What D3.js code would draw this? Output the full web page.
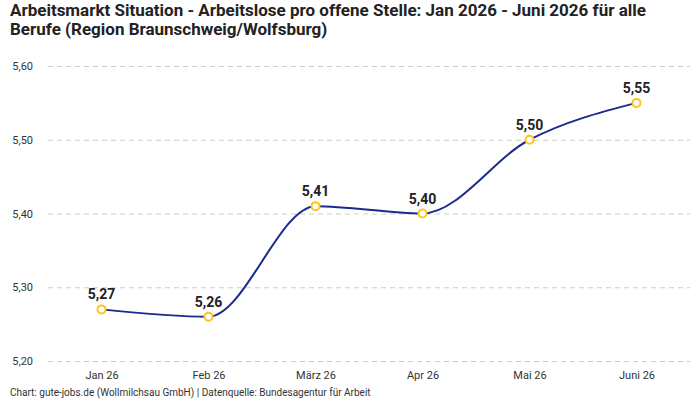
<!DOCTYPE html>
<meta charset="utf-8">
<script src="https://d3js.org/d3.v7.min.js"></script>
<style>
  body { margin: 0; background: #fff; }
  svg { display: block; }
</style>
<div id="chart"></div>
<script>
  // data
  var months = ["Jan 26", "Feb 26", "März 26", "Apr 26", "Mai 26", "Juni 26"];
  var values = [5.27, 5.26, 5.41, 5.40, 5.50, 5.55];
  var yTicks = [5.2, 5.3, 5.4, 5.5, 5.6];
  var titleLines = [
    "Arbeitsmarkt Situation - Arbeitslose pro offene Stelle: Jan 2026 - Juni 2026 für alle",
    "Berufe (Region Braunschweig/Wolfsburg)"
  ];
  var footer = "Chart: gute-jobs.de (Wollmilchsau GmbH) | Datenquelle: Bundesagentur für Arbeit";

  var W = 700, H = 400;
  var fmt = function(v) { return d3.format(".2f")(v).replace(".", ","); };

  var svg = d3.select("#chart").append("svg")
    .attr("width", W).attr("height", H);

  // title
  svg.append("g").selectAll("text")
    .data(titleLines)
    .enter().append("text")
    .attr("x", 10)
    .attr("y", function(d, i) { return 16 + i * 19; })
    .attr("font-family", "'Liberation Sans Narrow', 'Roboto', sans-serif")
    .attr("font-weight", "bold")
    .attr("font-size", "17px")
    .attr("fill", "#222")
    .text(function(d) { return d; });

  var x = d3.scalePoint()
    .domain(months)
    .range([48, 690])
    .padding(0.5);

  var y = d3.scaleLinear()
    .domain([5.2, 5.6])
    .range([361, 66]);

  // grid + y labels
  var yAxis = svg.append("g")
    .attr("transform", "translate(48,0)")
    .call(d3.axisLeft(y).tickValues(yTicks).tickFormat(fmt).tickSize(-642).tickPadding(15));
  yAxis.select(".domain").remove();
  yAxis.selectAll(".tick line")
    .attr("stroke", "#ccc")
    .attr("stroke-dasharray", "5,4");
  yAxis.selectAll(".tick text")
    .attr("font-family", "Roboto, sans-serif")
    .attr("font-size", "11px")
    .attr("fill", "#333");

  // x labels
  var xAxis = svg.append("g")
    .attr("transform", "translate(0,361)")
    .call(d3.axisBottom(x).tickSize(0).tickPadding(10));
  xAxis.select(".domain").remove();
  xAxis.selectAll(".tick text")
    .attr("font-family", "Roboto, sans-serif")
    .attr("font-size", "11px")
    .attr("fill", "#333");

  // line
  var line = d3.line()
    .x(function(d, i) { return x(months[i]); })
    .y(function(d) { return y(d); })
    .curve(d3.curveMonotoneX);

  svg.append("path")
    .datum(values)
    .attr("d", line)
    .attr("fill", "none")
    .attr("stroke", "#1b2a8c")
    .attr("stroke-width", 2);

  svg.append("g").selectAll("circle")
    .data(values)
    .enter().append("circle")
    .attr("cx", function(d, i) { return x(months[i]); })
    .attr("cy", function(d) { return y(d); })
    .attr("r", 4)
    .attr("fill", "#fff")
    .attr("stroke", "#fbc51b")
    .attr("stroke-width", 2);

  svg.append("g").selectAll("text")
    .data(values)
    .enter().append("text")
    .attr("x", function(d, i) { return x(months[i]); })
    .attr("y", function(d) { return y(d) - 10; })
    .attr("text-anchor", "middle")
    .attr("font-family", "Roboto, sans-serif")
    .attr("font-weight", "bold")
    .attr("font-size", "14px")
    .attr("fill", "#222")
    .text(fmt);

  // footer
  svg.append("text")
    .attr("x", 10)
    .attr("y", 396)
    .attr("font-family", "Roboto, sans-serif")
    .attr("font-size", "10px")
    .attr("fill", "#333")
    .text(footer);
</script>
